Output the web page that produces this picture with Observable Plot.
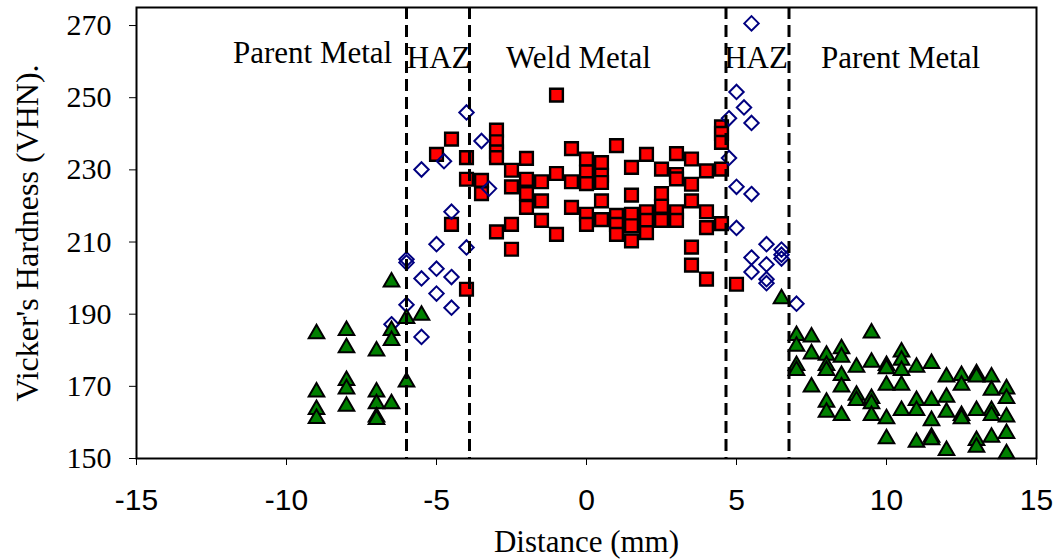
<!DOCTYPE html>
<html>
<head>
<meta charset="utf-8">
<script src="https://cdn.jsdelivr.net/npm/d3@7"></script>
<script src="https://cdn.jsdelivr.net/npm/@observablehq/plot@0.6"></script>
<style>
  html, body { margin: 0; padding: 0; background: #fff; }
</style>
</head>
<body>
<div id="chart"></div>
<script>
// Weld metal (red squares)
const weldX = [-4.5, -5, -4, -4, -3.5, -3.5, -4.5, -4, -3, -3, -3, -3, -3, -2.5, -2.5, -2.5, -2.5, -2, -2, -2, -2, -1.5, -1.5, -1.5, -1, -1, -1, -0.5, -0.5, -0.5, 0, 0, 0, 0, 0, 0.5, 0.5, 0.5, 0.5, 0.5, 1, 1, 1, 1, 1.5, 1.5, 1.5, 1.5, 1.5, 2, 2, 2, 2, 2.5, 2.5, 2.5, 2.5, 3, 3, 3, 3, 3, 3.5, 3.5, 3.5, 3.5, 3.5, 4, 4, 4, 4, 4.5, 4.5, 4.5, 4.5, 4.5, 5];
const weldY = [238.5, 234.3, 233.4, 227.4, 227.1, 223.4, 214.9, 196.9, 241, 237.8, 235, 233.4, 212.8, 229.9, 225.3, 214.9, 208, 233.2, 227.4, 223.4, 219.6, 226.7, 221.4, 216, 250.7, 229, 212.1, 235.9, 226.7, 219.6, 233, 229.4, 226.2, 217.7, 214.9, 232, 228.5, 226.5, 221.4, 216.2, 236.7, 217.4, 214.9, 212.1, 230.7, 223, 217.7, 214.5, 210.3, 234.3, 218.4, 216, 212.6, 230.2, 223.4, 219.9, 216, 234.5, 228.7, 227.5, 218.4, 216, 233, 226, 221.4, 208.6, 203.6, 229.7, 218.4, 214, 199.7, 241.9, 240.1, 237.6, 230.2, 215.1, 198.3];

// HAZ (open blue diamonds)
const hazX = [-4, -3.5, -4.75, -5.5, -3.25, -4.5, -5, -4, -6, -6, -5, -5.5, -4.5, -5, -6, -4.5, -6.5, -5.5,
              5.5, 5, 5.25, 4.75, 5.5, 4.75, 5, 5.5, 5, 6, 5.5, 6.5, 6.5, 6.5, 6, 5.5, 6, 6, 7];
const hazY = [245.9, 238, 232.4, 230.1, 224.8, 218.4, 209.4, 208.5, 205.2, 204.3, 202.6, 199.9, 200.3, 195.7, 192.6, 191.8, 187.2, 183.7,
              270.6, 251.6, 247.3, 244.3, 243, 233.3, 225.3, 223.3, 213.9, 209.4, 205.7, 207.9, 206.5, 205.4, 203.8, 201.7, 199.7, 198.6, 192.9];

// Parent metal (green triangles)
const parentX = [-9, -9, -9, -9, -8, -8, -8, -8, -8, -7, -7, -7, -7, -7, -6.5, -6.5, -6.5, -6.5, -6, -6, -5.5,
  6.5, 7, 7, 7, 7, 7.5, 7.5, 7.5, 8, 8, 8, 8, 8, 8.5, 8.5, 8.5, 8.5, 8.5, 9, 9, 9,
  9.5, 9.5, 9.5, 9.5, 9.5, 10, 10, 10, 10, 10, 10.5, 10.5, 10.5, 10.5, 10.5, 11, 11, 11, 11,
  11.5, 11.5, 11.5, 11.5, 11.5, 12, 12, 12, 12, 12.5, 12.5, 12.5, 12.5, 13, 13, 13, 13, 13,
  13.5, 13.5, 13.5, 13.5, 13.5, 14, 14, 14, 14, 14];
const parentY = [184.6, 168.4, 163.6, 161.1, 185.5, 180.7, 171.6, 169.3, 164.5, 179.8, 168.4, 165.2, 161.5, 160.8, 198.9, 185.5, 182.7, 165.2, 188.8, 171.2, 189.7,
  194.3, 184.1, 181.1, 175.8, 174.4, 183.7, 179, 169.8, 178.6, 175.8, 174.4, 165.6, 162.8, 180.4, 178.1, 173, 169.8, 161.9, 175.3, 167.5, 166.1,
  184.8, 176.7, 166.6, 165.2, 161.9, 175.8, 174.9, 170.3, 161, 155.5, 179.5, 177.2, 174.4, 170.3, 163.3, 175.3, 166.1, 163.3, 154.5,
  176.3, 166.1, 160.5, 155.9, 155.2, 172.6, 167, 162.8, 152.2, 173, 170.3, 161.9, 161, 173.5, 172.6, 163.3, 155, 153.1,
  172.6, 168.9, 163.3, 161.9, 155.9, 169.3, 166.6, 161.5, 156.9, 151.3];

// Zone boundaries and labels
const boundaries = [-6, -3.9, 4.65, 6.75];
const regionNames = ["Parent Metal", "HAZ", "Weld Metal", "HAZ", "Parent Metal"];
const regionX = [-9.13, -4.93, -0.27, 5.65, 10.47];
const regionY = [262.3, 260.9, 260.9, 260.9, 260.9];

const xTicks = [-15, -10, -5, 0, 5, 10, 15];
const yTicks = [150, 170, 190, 210, 230, 250, 270];
const xLabel = "Distance (mm)";
const yLabel = "Vicker's Hardness (VHN).";

const weld = weldX.map((x, i) => ({x, y: weldY[i]}));
const haz = hazX.map((x, i) => ({x, y: hazY[i]}));
const parent = parentX.map((x, i) => ({x, y: parentY[i]}));

const serif = "'Liberation Serif', 'Times New Roman', serif";
const sans = "'Liberation Sans Narrow', 'Liberation Sans', Arial, sans-serif";

const chart = Plot.plot({
  width: 1060,
  height: 560,
  marginLeft: 136,
  marginRight: 24,
  marginTop: 7,
  marginBottom: 102,
  style: {background: "#fff", color: "#000", fontFamily: serif},
  x: {domain: [-15, 15]},
  y: {domain: [150, 275]},
  marks: [
    Plot.dot(weld, {x: "x", y: "y", symbol: "square", r: 7.2, fill: "#ff0000", stroke: "#000", strokeWidth: 2.4}),
    Plot.dot(haz, {x: "x", y: "y", symbol: "diamond2", r: 6.5, fill: "none", stroke: "#000080", strokeWidth: 2}),
    Plot.dot(parent, {x: "x", y: "y", symbol: "triangle", r: 5.8, fill: "#008000", stroke: "#000", strokeWidth: 2}),
    Plot.ruleX(boundaries, {stroke: "#000", strokeWidth: 3, strokeDasharray: "12,6"}),
    Plot.text(regionNames, {x: (d, i) => regionX[i], y: (d, i) => regionY[i], fontSize: 31, fontFamily: serif, fill: "#000"}),
    Plot.frame({stroke: "#000", strokeWidth: 2}),
    Plot.axisX({ticks: xTicks, tickFormat: d => String(d), tickSize: 7, tickPadding: 23, fontSize: 30, fontFamily: sans, label: null, stroke: "#000"}),
    Plot.axisY({ticks: yTicks, tickSize: 7, tickPadding: 18, fontSize: 30, fontFamily: serif, label: null, stroke: "#000"}),
    Plot.text([xLabel], {frameAnchor: "bottom", lineAnchor: "middle", dy: 84, fontSize: 31, fontFamily: serif, fill: "#000"}),
    Plot.text([yLabel], {frameAnchor: "left", textAnchor: "middle", lineAnchor: "middle", rotate: -90, dx: -109, fontSize: 32, fontFamily: serif, fill: "#000"})
  ]
});
document.getElementById("chart").appendChild(chart);
</script>
</body>
</html>
